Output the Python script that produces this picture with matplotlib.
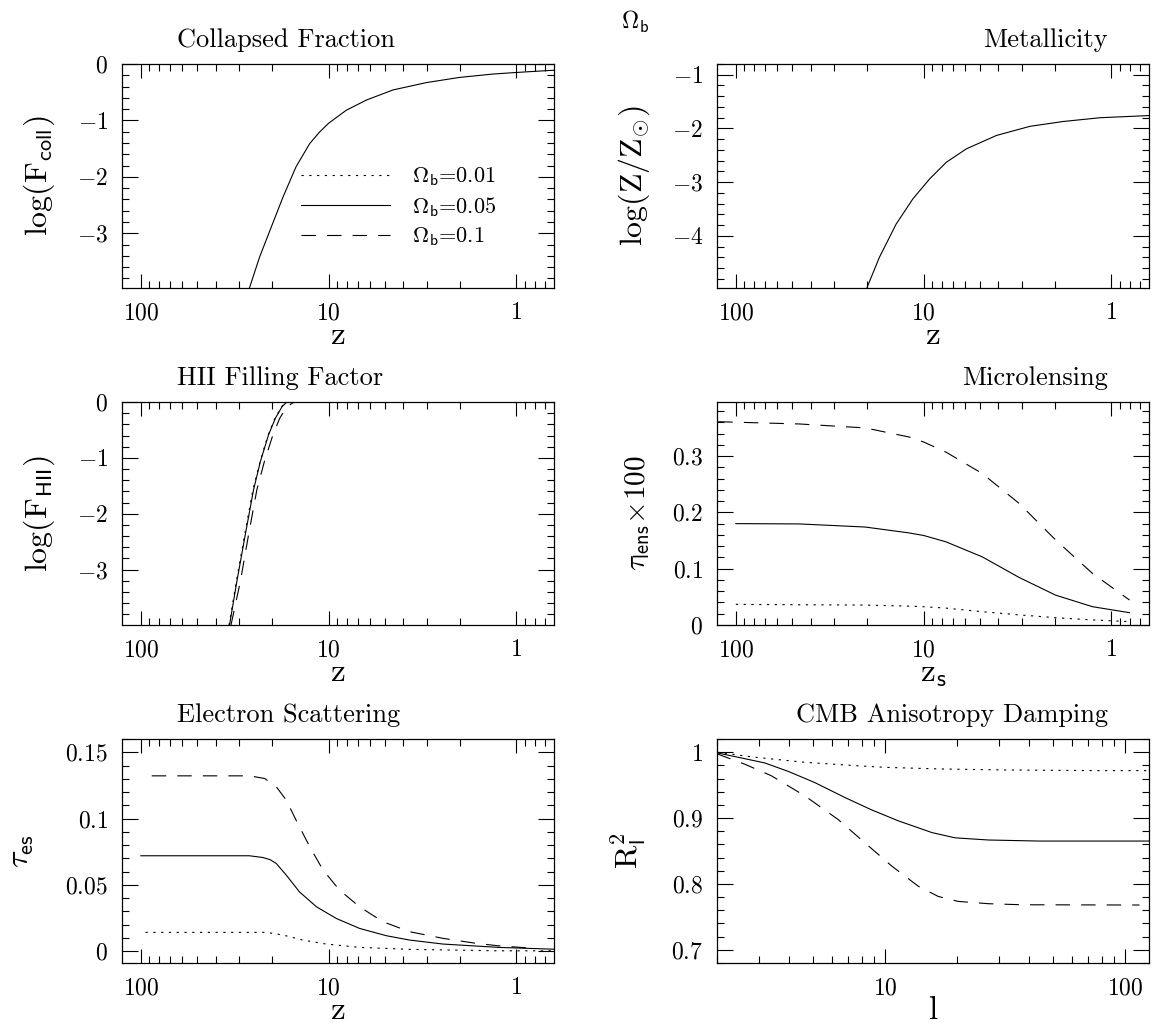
import numpy as np
import matplotlib
matplotlib.use('Agg')
import matplotlib.pyplot as plt
from matplotlib.lines import Line2D
from matplotlib.ticker import FixedLocator, MultipleLocator, FuncFormatter, NullFormatter

plt.rcParams['font.family'] = 'serif'
plt.rcParams['font.serif'] = ['cmr10']
plt.rcParams['mathtext.fontset'] = 'cm'
plt.rcParams['axes.formatter.use_mathtext'] = True
plt.rcParams['axes.linewidth'] = 0.9

# Collapsed fraction (the three Omega_b curves coincide)
z_coll = [26.4, 23.3, 20.2, 17.5, 14.9, 12.6, 11.2, 10.0, 8.05, 6.3, 4.54, 3.02, 2.0, 1.33, 1.0, 0.63]
f_coll = [-3.97, -3.42, -2.89, -2.36, -1.82, -1.41, -1.21, -1.05, -0.82, -0.64, -0.46, -0.33, -0.237,
          -0.178, -0.15, -0.11]

# Metallicity
z_met = [20.0, 17.2, 14.0, 11.4, 9.29, 7.57, 5.92, 4.09, 2.71, 1.80, 1.146, 0.63]
met = [-4.96, -4.40, -3.78, -3.31, -2.94, -2.63, -2.38, -2.13, -1.96, -1.87, -1.80, -1.76]

# HII filling factor
z_hii_05 = [33.7, 30.8, 27.8, 25.1, 23.1, 20.9, 19.2, 17.7, 16.7, 10.0, 1.0, 0.63]
f_hii_05 = [-3.99, -3.21, -2.38, -1.57, -1.07, -0.59, -0.29, -0.084, 0.0, 0.0, 0.0, 0.0]
z_hii_01 = [33.9, 31.0, 28.0, 25.3, 23.2, 21.0, 19.3, 17.8, 16.8, 10.0, 1.0, 0.63]
f_hii_01 = [-3.99, -3.21, -2.38, -1.57, -1.07, -0.59, -0.29, -0.084, 0.0, 0.0, 0.0, 0.0]
z_hii_1 = [33.1, 29.5, 26.7, 24.1, 22.0, 19.8, 18.2, 16.7, 15.4, 14.2, 10.0, 1.0, 0.63]
f_hii_1 = [-3.99, -3.21, -2.38, -1.57, -1.07, -0.59, -0.29, -0.084, -0.01, 0.0, 0.0, 0.0, 0.0]

# Microlensing optical depth
zs_lens = [100, 46, 20.5, 12, 10, 7.6, 4.87, 3.1, 1.98, 1.26, 0.8]
zs_lens_1 = [124, 46, 20.5, 12, 10, 7.6, 4.87, 3.1, 1.98, 1.26, 0.8]
tau_lens_01 = [0.0366, 0.0360, 0.0354, 0.0335, 0.0325, 0.0300, 0.0236, 0.0180, 0.0130, 0.0090, 0.0060]
tau_lens_05 = [0.180, 0.1795, 0.174, 0.1636, 0.159, 0.1477, 0.121, 0.0845, 0.053, 0.0325, 0.0219]
tau_lens_1 = [0.361, 0.357, 0.350, 0.334, 0.325, 0.307, 0.269, 0.216, 0.151, 0.0916, 0.0443]

# Electron scattering optical depth
z_es_01 = [94.4, 21.5, 17.5, 13.7, 10.3, 6.84, 3.70, 1.25, 0.63]
tau_es_01 = [0.0141, 0.0141, 0.0121, 0.0083, 0.0053, 0.0028, 0.0013, 0.0002, 0.0002]
z_es_05 = [100, 26.4, 22.4, 20.5, 19.0, 16.8, 14.3, 11.6, 9.1, 6.84, 4.93, 3.70, 2.46, 1.25, 0.63]
tau_es_05 = [0.0719, 0.0719, 0.0706, 0.0690, 0.0661, 0.0573, 0.0447, 0.0334, 0.0246, 0.0171, 0.0116,
             0.0083, 0.0053, 0.0028, 0.0014]
z_es_1 = [87.5, 26.4, 21.9, 19.0, 16.8, 14.9, 12.6, 10.7, 8.74, 6.84, 5.13, 3.70, 2.46, 1.63, 1.25, 0.89]
tau_es_1 = [0.1322, 0.1322, 0.1302, 0.124, 0.1139, 0.0988, 0.0787, 0.0611, 0.046, 0.0334, 0.0221,
            0.0146, 0.0096, 0.0058, 0.0040, 0.0025]

# CMB anisotropy damping
ell_01 = [2.0, 2.86, 4.63, 7.5, 10.0, 16.7, 31.7, 79, 126]
r2_01 = [1.0, 0.9924, 0.9847, 0.9796, 0.977, 0.9746, 0.973, 0.972, 0.972]
ell_05 = [2.0, 2.44, 3.16, 3.95, 5.1, 6.81, 8.8, 11.4, 15.7, 19.6, 27, 43.7, 126]
r2_05 = [0.999, 0.9924, 0.9837, 0.971, 0.954, 0.9313, 0.9125, 0.8957, 0.878, 0.870, 0.8667, 0.8651, 0.8651]
ell_1 = [2.0, 2.6, 3.36, 4.63, 6.38, 8.25, 10.7, 13.8, 16.7, 20.2, 27, 37.2, 115]
r2_1 = [0.9975, 0.982, 0.9644, 0.934, 0.898, 0.8626, 0.827, 0.7964, 0.781, 0.7735, 0.770, 0.7684, 0.768]

omega_labels = [r'$\Omega_{\mathsf{b}}$=0.01', r'$\Omega_{\mathsf{b}}$=0.05', r'$\Omega_{\mathsf{b}}$=0.1']

dotted = (0, (2, 5))
dashed = (0, (13, 10))
lw = 0.8

fig = plt.figure(figsize=(11.53, 10.28), dpi=100)
W, H = 1153, 1028


def add_axes(left, top, right, bottom):
    return fig.add_axes([left / W, 1 - bottom / H, (right - left) / W, (bottom - top) / H])


ax1 = add_axes(122, 64, 554, 288)
ax2 = add_axes(717, 64, 1149, 288)
ax3 = add_axes(122, 402, 554, 625)
ax4 = add_axes(717, 402, 1149, 625)
ax5 = add_axes(122, 739, 554, 963)
ax6 = add_axes(717, 739, 1149, 963)

fmt = FuncFormatter(lambda v, p: f'${v:g}$')


def style(ax, yticks, yminor, xticks, xlim, ylim):
    ax.set_xscale('log')
    ax.set_xlim(*xlim)
    ax.set_ylim(*ylim)
    ax.xaxis.set_major_locator(FixedLocator(xticks))
    ax.xaxis.set_major_formatter(fmt)
    ax.xaxis.set_minor_formatter(NullFormatter())
    ax.yaxis.set_major_locator(FixedLocator(yticks))
    ax.yaxis.set_minor_locator(MultipleLocator(yminor))
    ax.yaxis.set_major_formatter(fmt)
    ax.tick_params(which='both', direction='in', top=True, right=True, width=0.8)
    ax.tick_params(which='major', labelsize=17)
    ax.tick_params(axis='x', which='major', length=10, pad=10)
    ax.tick_params(axis='y', which='major', length=11.5, pad=10)
    ax.tick_params(which='minor', length=5)


def title(ax, text, side):
    if side == 'left':
        ax.text(0.128, 1.075, text, transform=ax.transAxes, ha='left', va='baseline', fontsize=19)
    else:
        ax.text(0.905, 1.075, text, transform=ax.transAxes, ha='right', va='baseline', fontsize=19)


def labels(ax, xl, yl, ylx, xly=-0.252, ysize=23):
    ax.set_xlabel(xl, fontsize=24, va='baseline')
    ax.set_ylabel(yl, fontsize=ysize)
    ax.xaxis.set_label_coords(0.5, xly)
    ax.yaxis.set_label_coords(ylx, 0.5)


zlim = (126, 0.63)

# Collapsed fraction
ax1.plot(z_coll, f_coll, 'k-', lw=lw)
style(ax1, [0, -1, -2, -3], 0.2, [100, 10, 1], zlim, (-3.97, 0))
title(ax1, 'Collapsed Fraction', 'left')
labels(ax1, r'$\mathrm{z}$', r'$\log(\mathrm{F}_{\mathsf{coll}})$', -0.15)
handles = [Line2D([], [], color='k', lw=lw, ls=dotted),
           Line2D([], [], color='k', lw=lw, ls='-'),
           Line2D([], [], color='k', lw=lw, ls=dashed)]
ax1.legend(handles, omega_labels, loc='center left', bbox_to_anchor=(0.415, 0.362),
           frameon=False, fontsize=16, handlelength=4.0, handletextpad=1.0,
           borderpad=0, borderaxespad=0, labelspacing=0.3)

# Metallicity
ax2.plot(z_met, met, 'k-', lw=lw)
style(ax2, [-1, -2, -3, -4], 0.2, [100, 10, 1], zlim, (-4.97, -0.8))
title(ax2, 'Metallicity', 'right')
labels(ax2, r'$\mathrm{z}$', r'$\log(\mathrm{Z}/\mathrm{Z}_{\odot})$', -0.15)

# HII filling factor
ax3.plot(z_hii_01, f_hii_01, 'k', ls=dotted, lw=lw)
ax3.plot(z_hii_05, f_hii_05, 'k-', lw=lw)
ax3.plot(z_hii_1, f_hii_1, 'k', ls=dashed, lw=lw)
style(ax3, [0, -1, -2, -3], 0.2, [100, 10, 1], zlim, (-3.99, 0))
title(ax3, 'HII Filling Factor', 'left')
labels(ax3, r'$\mathrm{z}$', r'$\log(\mathrm{F}_{\mathsf{HII}})$', -0.15)

# Microlensing
ax4.plot(zs_lens, tau_lens_01, 'k', ls=dotted, lw=lw)
ax4.plot(zs_lens, tau_lens_05, 'k-', lw=lw)
ax4.plot(zs_lens_1, tau_lens_1, 'k', ls=dashed, lw=lw)
style(ax4, [0, 0.1, 0.2, 0.3], 0.02, [100, 10, 1], zlim, (0, 0.396))
title(ax4, 'Microlensing', 'right')
labels(ax4, r'$\mathrm{z}_{\mathsf{s}}$', r'$\tau_{\mathsf{lens}}\!\times\!100$', -0.15, ysize=21)

# Electron scattering
ax5.plot(z_es_01, tau_es_01, 'k', ls=dotted, lw=lw)
ax5.plot(z_es_05, tau_es_05, 'k-', lw=lw)
ax5.plot(z_es_1, tau_es_1, 'k', ls=dashed, lw=lw)
style(ax5, [0, 0.05, 0.1, 0.15], 0.01, [100, 10, 1], zlim, (-0.009, 0.16))
title(ax5, 'Electron Scattering', 'left')
labels(ax5, r'$\mathrm{z}$', r'$\tau_{\mathsf{es}}$', -0.2, xly=-0.25)

# CMB anisotropy damping
ax6.plot(ell_01, r2_01, 'k', ls=dotted, lw=lw)
ax6.plot(ell_05, r2_05, 'k-', lw=lw)
ax6.plot(ell_1, r2_1, 'k', ls=dashed, lw=lw)
style(ax6, [0.7, 0.8, 0.9, 1.0], 0.02, [10, 100], (2, 126), (0.68, 1.02))
title(ax6, 'CMB Anisotropy Damping', 'right')
labels(ax6, r'$\mathrm{l}$', r'$\mathrm{R}^2_{\mathsf{l}}$', -0.16, xly=-0.25)

fig.text(0.551, 0.979, r'$\Omega_{\mathsf{b}}$', ha='center', va='center', fontsize=17)

fig.savefig('out.png', dpi=100)
